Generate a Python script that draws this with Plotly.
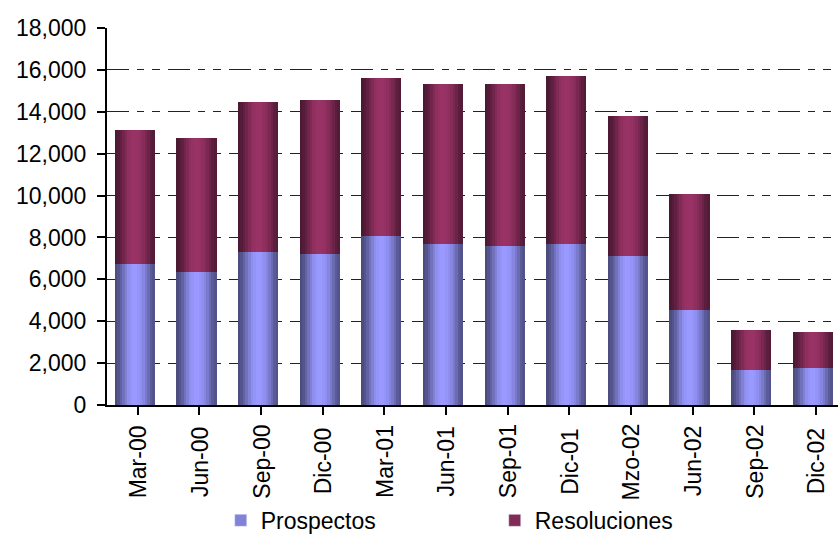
import plotly.graph_objects as go

categories = ["Mar-00", "Jun-00", "Sep-00", "Dic-00", "Mar-01", "Jun-01",
              "Sep-01", "Dic-01", "Mzo-02", "Jun-02", "Sep-02", "Dic-02"]
totales = [13150, 12760, 14480, 14580, 15630, 15340, 15340, 15720, 13810, 10090, 3600, 3500]
prospectos = [6750, 6370, 7320, 7230, 8090, 7700, 7610, 7700, 7130, 4550, 1690, 1790]
resoluciones = [t - p for t, p in zip(totales, prospectos)]

y_ticks = [0, 2000, 4000, 6000, 8000, 10000, 12000, 14000, 16000, 18000]
y_tick_labels = ["0", "2,000", "4,000", "6,000", "8,000", "10,000", "12,000",
                 "14,000", "16,000", "18,000"]

series = [
    ("Prospectos", prospectos, [0] * len(prospectos), (0x99, 0x99, 0xFF)),
    ("Resoluciones", resoluciones, prospectos, (0x99, 0x33, 0x66)),
]

# cylinder-like horizontal shading profile
profile = [0.50, 0.56, 0.64, 0.74, 0.84, 0.93, 0.98, 1.0, 1.0, 0.98,
           0.94, 0.88, 0.80, 0.70, 0.60, 0.55]
bar_w = 0.65
shift = -0.05
n = len(profile)
sw = bar_w / n

fig = go.Figure()
xs = list(range(len(categories)))
for name, vals, base, rgb in series:
    for i, f in enumerate(profile):
        col = "rgb(%d,%d,%d)" % tuple(int(c * f) for c in rgb)
        fig.add_trace(go.Bar(
            x=xs, y=vals, base=base, name=name,
            width=sw * 1.04, offset=shift - bar_w / 2 + i * sw,
            marker=dict(color=col, line=dict(width=0)),
            showlegend=False, hoverinfo="skip",
        ))
    fig.add_trace(go.Bar(
        x=[None], y=[None], name=name,
        marker=dict(color="rgb(%d,%d,%d)" % tuple(int(c * 0.85) for c in rgb)),
        showlegend=True,
    ))

font = dict(family="Liberation Sans, Arial, sans-serif", size=23, color="black")

for i, lab in enumerate(categories):
    fig.add_annotation(x=i, y=-0.150, xref="x", yref="paper", text=lab,
                       textangle=-90, showarrow=False, xanchor="center",
                       yanchor="middle", font=font)

fig.update_layout(
    width=838, height=536,
    margin=dict(l=107, r=0, t=28, b=131, autoexpand=False),
    paper_bgcolor="white", plot_bgcolor="white",
    barmode="overlay", bargap=0,
    font=font,
    xaxis=dict(range=[-0.5, 11.36], tickmode="array", tickvals=xs,
               ticktext=[""] * len(xs), tickson="boundaries",
               ticks="outside", ticklen=8, tickwidth=1.5, tickcolor="black",
               showline=True, linecolor="black", linewidth=2,
               showgrid=False, zeroline=False),
    yaxis=dict(range=[0, 18000], tickmode="array", tickvals=y_ticks,
               ticktext=y_tick_labels, ticks="outside", ticklen=8,
               tickwidth=1.5, tickcolor="black", ticklabelstandoff=6,
               showline=True, linecolor="black", linewidth=2,
               showgrid=True, gridcolor="#222222", gridwidth=1.2,
               griddash="22px,8px,7px,8px,8px,8px", zeroline=False),
    legend=dict(orientation="h", x=(221 - 107.3) / 730.7, xanchor="left",
                y=-0.306, yanchor="middle", entrywidth=229,
                entrywidthmode="pixels", font=font, itemclick=False,
                bgcolor="rgba(0,0,0,0)", tracegroupgap=0),
)

fig.write_html("out.html")
